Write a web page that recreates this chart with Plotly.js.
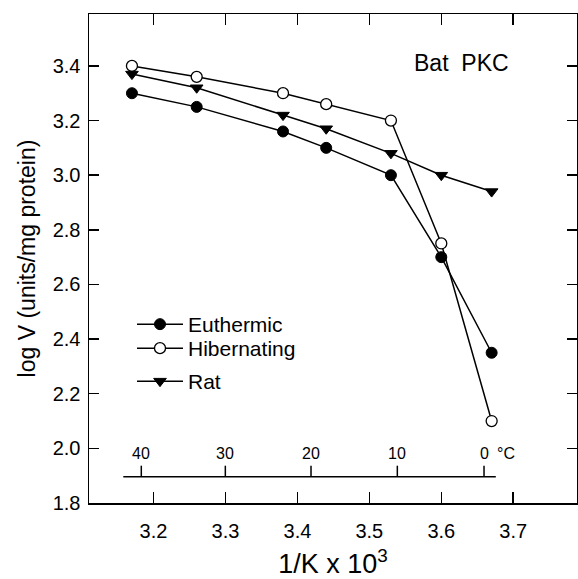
<!DOCTYPE html>
<html>
<head>
<meta charset="utf-8">
<script src="https://cdn.plot.ly/plotly-3.0.1.min.js"></script>
<style>html,body{margin:0;padding:0;background:#fff;}#chart{width:578px;height:579px;}</style>
</head>
<body>
<div id="chart"></div>
<script>
// Data
const invK = [3.17, 3.26, 3.38, 3.44, 3.53, 3.60, 3.67];
const euthermic = [3.30, 3.25, 3.16, 3.10, 3.00, 2.70, 2.35];
const hibernating = [3.40, 3.36, 3.30, 3.26, 3.20, 2.75, 2.10];
const rat = [3.37, 3.32, 3.22, 3.17, 3.08, 3.00, 2.94];
const seriesNames = ['Euthermic', 'Hibernating', 'Rat'];
const xTicks = [3.2, 3.3, 3.4, 3.5, 3.6, 3.7];
const yTicks = [1.8, 2.0, 2.2, 2.4, 2.6, 2.8, 3.0, 3.2, 3.4];
const celsiusLabels = ['40', '30', '20', '10', '0'];
const celsiusPos = [3.183, 3.2998, 3.4189, 3.5389, 3.6594];

const FONT = 'Liberation Sans, Arial, Helvetica, sans-serif';
const W = 578, H = 579;
const M = {l: 89, r: 1, t: 14, b: 76};
const plotW = W - M.l - M.r;
const plotH = H - M.t - M.b;
const xRange = [3.1103, 3.1103 + plotW / 719.4];
const yRange = [1.8, 3.59];
const pxPerUnit = plotW / (xRange[1] - xRange[0]);
const py = px => (H - M.b - px) / plotH;   // pixel row -> paper y
const pxx = px => (px - M.l) / plotW;      // pixel col -> paper x
const yAt = px => yRange[0] + py(px) * (yRange[1] - yRange[0]);   // pixel row -> y value
const xAt = px => xRange[0] + (px - M.l) / pxPerUnit;             // pixel col -> x value

// °C scale geometry (positions, not data)
const cBase = yAt(476.7), cTop = yAt(465.7);
const cStart = xAt(123.3), cEnd = xAt(495.8);
const cx = [cStart, cEnd], cy = [cBase, cBase];
celsiusPos.forEach(v => { cx.push(null, v, v); cy.push(null, cBase, cTop); });

const lineStyle = {color: '#000', width: 1.5};
const traces = [
  {x: invK, y: euthermic, name: seriesNames[0], mode: 'lines+markers', legend: 'legend',
   line: lineStyle, marker: {symbol: 'circle', size: 11, color: '#000', line: {color: '#000', width: 1}}},
  {x: invK, y: hibernating, name: seriesNames[1], mode: 'lines+markers', legend: 'legend2',
   line: lineStyle, marker: {symbol: 'circle', size: 11, color: '#fff', line: {color: '#000', width: 1.3}}},
  {x: invK, y: rat, name: seriesNames[2], mode: 'lines+markers', legend: 'legend3',
   line: lineStyle, marker: {symbol: 'triangle-down', size: 11, color: '#000', line: {color: '#000', width: 1}}},
  {x: cx, y: cy, mode: 'lines', showlegend: false, hoverinfo: 'skip', connectgaps: false,
   line: {color: '#000', width: 1.5}}
];
// draw the °C scale beneath the data series
traces.unshift(traces.pop());

const legendBase = {xanchor: 'left', yanchor: 'top', bgcolor: 'rgba(0,0,0,0)',
                    font: {family: FONT, size: 21, color: '#000'}, itemwidth: 46};

const celsiusAnnotations = celsiusPos.map((v, i) => ({
  text: celsiusLabels[i], xref: 'x', yref: 'paper', x: v, y: py(453),
  xanchor: 'center', yanchor: 'middle', showarrow: false, font: {family: FONT, size: 16, color: '#000'}
}));

const layout = {
  width: W, height: H,
  margin: M,
  paper_bgcolor: '#fff', plot_bgcolor: '#fff',
  font: {family: FONT, color: '#000', size: 20},
  showlegend: true,
  legend: Object.assign({x: pxx(132), y: py(304)}, legendBase),
  legend2: Object.assign({x: pxx(132), y: py(328)}, legendBase),
  legend3: Object.assign({x: pxx(132), y: py(361)}, legendBase),
  xaxis: {
    range: xRange, tickvals: xTicks, ticktext: xTicks.map(v => v.toFixed(1)),
    ticks: 'inside', ticklen: 11, tickwidth: 1.5, tickcolor: '#000',
    showline: true, linecolor: '#000', linewidth: 1.5, mirror: 'allticks',
    showgrid: false, zeroline: false, ticklabelstandoff: 9,
    tickfont: {family: FONT, size: 20},
    title: {text: '1/K x 10<sup>3</sup>', font: {family: FONT, size: 27}, standoff: 18}
  },
  yaxis: {
    range: yRange, tickvals: yTicks, ticktext: yTicks.map(v => v.toFixed(1)),
    ticks: 'inside', ticklen: 10, tickwidth: 1.5, tickcolor: '#000',
    showline: true, linecolor: '#000', linewidth: 1.5, mirror: 'allticks',
    showgrid: false, zeroline: false, ticklabelstandoff: 3,
    tickfont: {family: FONT, size: 20},
    title: {text: 'log V (units/mg protein)', font: {family: FONT, size: 23}, standoff: 10}
  },
  annotations: celsiusAnnotations.concat([
    {text: 'Bat\u00a0 PKC', xref: 'paper', yref: 'paper', x: pxx(461), y: py(63),
     xanchor: 'center', yanchor: 'middle', showarrow: false, font: {family: FONT, size: 23}},
    {text: '°C', xref: 'paper', yref: 'paper', x: pxx(506), y: py(453),
     xanchor: 'center', yanchor: 'middle', showarrow: false, font: {family: FONT, size: 16}}
  ])
};

Plotly.newPlot('chart', traces, layout, {displayModeBar: false, staticPlot: true});
</script>
</body>
</html>
